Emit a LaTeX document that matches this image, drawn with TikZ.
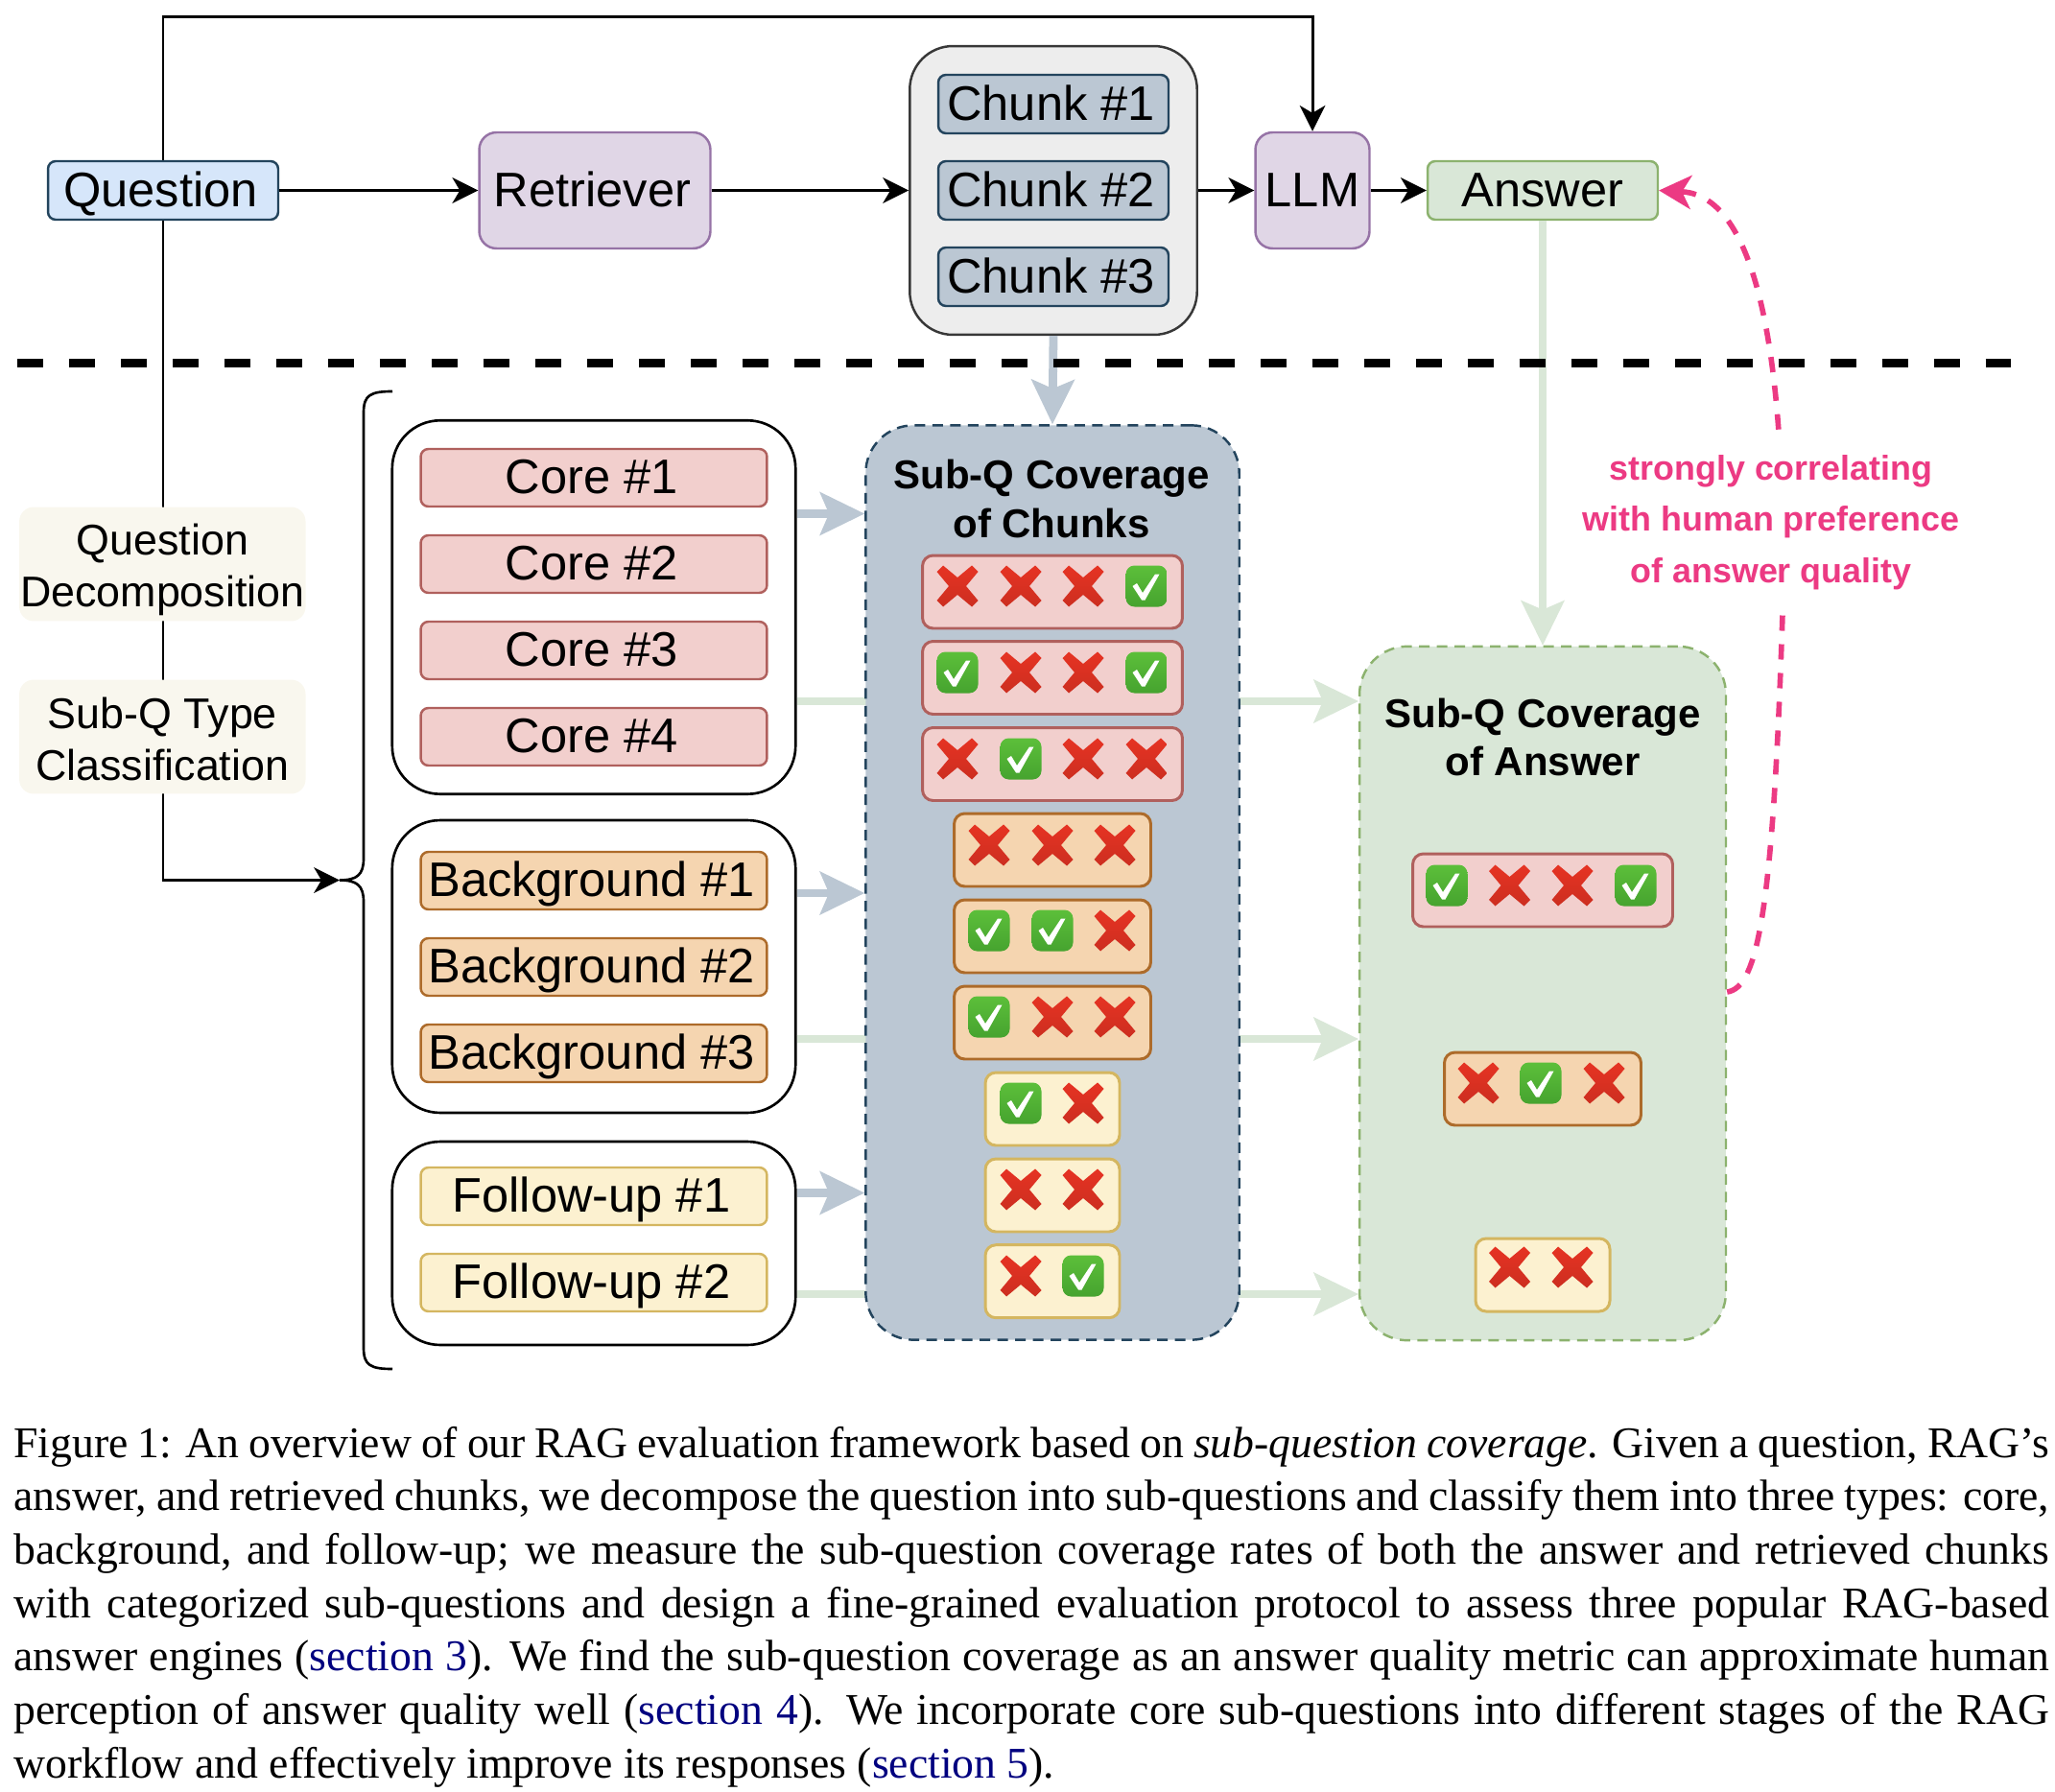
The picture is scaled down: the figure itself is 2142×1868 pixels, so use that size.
\documentclass[tikz,border=0pt]{standalone}
\usepackage{fontspec}
\setmainfont{Liberation Sans}
\newfontfamily\capfont{Liberation Serif}
\usetikzlibrary{arrows.meta}
\definecolor{questfill}{HTML}{D6E6FA}
\definecolor{slatefill}{HTML}{BBC7D3}
\definecolor{slateline}{HTML}{23445D}
\definecolor{purplefill}{HTML}{E0D6E6}
\definecolor{purpleline}{HTML}{9673A6}
\definecolor{greenfill}{HTML}{D9E7D7}
\definecolor{greenline}{HTML}{8CB26E}
\definecolor{corefill}{HTML}{F2CFCD}
\definecolor{coreline}{HTML}{B0605D}
\definecolor{backfill}{HTML}{F5D5B0}
\definecolor{backline}{HTML}{AD6B2A}
\definecolor{followfill}{HTML}{FCF1D0}
\definecolor{followline}{HTML}{D4B660}
\definecolor{hintfill}{HTML}{F9F7EE}
\definecolor{hotpink}{HTML}{EC3A83}
\definecolor{linkblue}{HTML}{00007F}
\definecolor{crosstop}{HTML}{E63323}
\definecolor{crossbottom}{HTML}{CC2E20}
\definecolor{checktop}{HTML}{5CBF3A}
\definecolor{checkbottom}{HTML}{46A32F}
\newcommand{\hintstrut}{\rule[-4pt]{0pt}{28.7pt}}
\newcommand{\capline}[1]{\hbox to 42.44cm{\spaceskip=0pt \xspaceskip=0pt #1}}
\begin{document}
\begin{tikzpicture}[x=0.02cm,y=-0.02cm,
    labelfont/.style={font=\fontsize{28.8}{34}\selectfont,text height=.665cm,text depth=0pt,inner sep=0pt},
    nudged/.style={execute at end node={\hspace{.1cm}}},
    qbox/.style={labelfont,nudged,draw=slateline,fill=questfill,line width=1.4pt,rounded corners=.16cm,minimum width=4.8cm,minimum height=1.22cm},
    purplebox/.style={labelfont,draw=purpleline,fill=purplefill,line width=1.4pt,rounded corners=.36cm,minimum height=2.42cm},
    answerbox/.style={labelfont,draw=greenline,fill=greenfill,line width=1.4pt,rounded corners=.16cm,minimum width=4.8cm,minimum height=1.22cm},
    chunkbox/.style={labelfont,nudged,draw=slateline,fill=slatefill,line width=1.4pt,rounded corners=.16cm,minimum width=4.8cm,minimum height=1.22cm},
    chunkgroup/.style={draw=black!78,fill=black!7,line width=1.4pt,rounded corners=.9cm,minimum width=5.99cm,minimum height=6.02cm},
    group/.style={draw=black,fill=white,line width=1.5pt,rounded corners=1cm,minimum width=8.41cm},
    corebox/.style={labelfont,nudged,draw=coreline,fill=corefill,line width=1.4pt,rounded corners=.16cm,minimum width=7.22cm,minimum height=1.2cm},
    backbox/.style={labelfont,nudged,draw=backline,fill=backfill,line width=1.4pt,rounded corners=.16cm,minimum width=7.22cm,minimum height=1.2cm},
    followbox/.style={labelfont,nudged,draw=followline,fill=followfill,line width=1.4pt,rounded corners=.16cm,minimum width=7.22cm,minimum height=1.2cm},
    corerow/.style={draw=coreline,fill=corefill,line width=1.7pt,rounded corners=.22cm,minimum width=5.42cm,minimum height=1.52cm},
    backrow/.style={draw=backline,fill=backfill,line width=1.7pt,rounded corners=.22cm,minimum width=4.1cm,minimum height=1.52cm},
    followrow/.style={draw=followline,fill=followfill,line width=1.7pt,rounded corners=.22cm,minimum width=2.8cm,minimum height=1.52cm},
    coverage/.style={line width=1.4pt,dash pattern=on .22cm off .15cm,rounded corners=1cm},
    covertitle/.style={font=\fontsize{23.9}{29}\selectfont\bfseries,align=center,inner sep=0pt},
    hint/.style={fill=hintfill,rounded corners=.3cm,align=center,inner sep=0pt,minimum width=5.97cm,minimum height=2.38cm,font=\fontsize{25.5}{30.7}\selectfont},
    flow/.style={draw=black,line width=1.7pt,-{Stealth[length=.54cm,width=.54cm,inset=.16cm,line width=0pt]}},
    slateflow/.style={draw=slatefill,line width=5pt,-{Stealth[length=.94cm,width=.92cm,inset=.2cm,line width=0pt]}},
    greenflow/.style={draw=greenfill,line width=5pt,-{Stealth[length=.94cm,width=.92cm,inset=.2cm,line width=0pt]}},
    crossmark/.pic={
        \shade[top color=crosstop,bottom color=crossbottom] (-21.5,-15) -- (-15,-21.5) -- (0,-9) -- (15,-21.5) -- (21.5,-15) -- (9,0)
            -- (21.5,15) -- (15,21.5) -- (0,9) -- (-15,21.5) -- (-21.5,15) -- (-9,0) -- cycle;
    },
    checkmark/.pic={
        \shade[rounded corners=.18cm,top color=checktop,bottom color=checkbottom] (-21.5,-21.5) rectangle (21.5,21.5);
        \fill[white] (-14.5,0) -- (-10,-3) -- (-4,7) -- (9,-12.5) -- (13.5,-12.5) -- (-1.5,14.5) -- (-5,14.5) -- cycle;
    }]
    \useasboundingbox (0,0) rectangle (2142,1868);

    % top row
    \node[qbox] (question) at (170,198.5) {Question};
    \node[purplebox,nudged,minimum width=4.82cm] (retriever) at (620,198.5) {Retriever};
    \node[chunkgroup] (chunks) at (1098,198.5) {};
    \node[chunkbox] (chunk1) at (1098,108.5) {Chunk \#1};
    \node[chunkbox] (chunk2) at (1098,198.5) {Chunk \#2};
    \node[chunkbox] (chunk3) at (1098,288.5) {Chunk \#3};
    \node[purplebox,minimum width=2.38cm] (llm) at (1368,198.5) {LLM};
    \node[answerbox] (answer) at (1608,198.5) {Answer};

    % sub-question groups
    \node[group,minimum height=7.79cm] (coregroup) at (619,633) {};
    \node[group,minimum height=6.1cm] (backgroup) at (619,1007.5) {};
    \node[group,minimum height=4.24cm] (followgroup) at (619,1296) {};
    \foreach \i/\yy in {1/498,2/588,3/678,4/768}
        \node[corebox] (core\i) at (619,\yy) {Core \#\i};
    \foreach \i/\yy in {1/918,2/1008,3/1098}
        \node[backbox] (back\i) at (619,\yy) {Background \#\i};
    \foreach \i/\yy in {1/1247,2/1337}
        \node[followbox] (follow\i) at (619,\yy) {Follow-up \#\i};

    % coverage of answer
    \node[draw=greenline,fill=greenfill,coverage,minimum width=7.64cm,minimum height=14.47cm] (anscov) at (1608,1035.5) {};
    \node[covertitle] (anstitle) at (1608,768.5) {Sub-Q Coverage\\of Answer};

    % flows that run behind the chunk coverage
    \draw[greenflow] (answer.south) -- (anscov.north);
    \draw[greenflow] (coregroup.east |- 0,731) -- (anscov.west |- 0,731);
    \draw[greenflow] (backgroup.east |- 0,1083) -- (anscov.west |- 0,1083);
    \draw[greenflow] (followgroup.east |- 0,1349) -- (anscov.west |- 0,1349);

    % coverage of chunks
    \node[draw=slateline,fill=slatefill,coverage,minimum width=7.79cm,minimum height=19.07cm] (chunkcov) at (1097,920) {};
    \node[covertitle] (chunktitle) at (1096,520) {Sub-Q Coverage\\of Chunks};
    \foreach \i/\yy in {1/617,2/706.5,3/796.5}
        \node[corerow] (chunkrow\i) at (1097,\yy) {};
    \foreach \i/\yy in {4/886,5/976,6/1066}
        \node[backrow] (chunkrow\i) at (1097,\yy) {};
    \foreach \i/\yy in {7/1156,8/1246,9/1335.7}
        \node[followrow] (chunkrow\i) at (1097,\yy) {};
    \node[corerow] (ansrow1) at (1608,928) {};
    \node[backrow] (ansrow2) at (1608,1135) {};
    \node[followrow] (ansrow3) at (1608,1329) {};
    \foreach \mx/\my in {998/611,1064/611,1129/611,1064/701,1129/701,998/791,1129/791,1195/791,
        1031/881,1097/881,1162/881,1162/970,1097/1060,1162/1060,1129/1150,1064/1240,1129/1240,1064/1330,
        1573.5/923,1639/923,1541/1129,1672/1129,1573.5/1321,1639/1321}
        \pic at (\mx,\my) {crossmark};
    \foreach \mx/\my in {1195/611,998/701,1195/701,1064/791,1031/970,1097/970,1031/1060,1064/1150,1129/1330,
        1508/923,1705/923,1606/1129}
        \pic at (\mx,\my) {checkmark};

    % flows into the chunk coverage
    \draw[slateflow] (chunks.south) -- (chunkcov.north);
    \draw[slateflow] (coregroup.east |- 0,535.5) -- (chunkcov.west |- 0,535.5);
    \draw[slateflow] (backgroup.east |- 0,931) -- (chunkcov.west |- 0,931);
    \draw[slateflow] (followgroup.east |- 0,1243.5) -- (chunkcov.west |- 0,1243.5);

    % top row arrows
    \coordinate (toprail) at (170,18);
    \coordinate (bracetip) at (354,917.5);
    \draw[flow] (question) -- (retriever);
    \draw[flow] (retriever) -- (chunks.west |- retriever);
    \draw[flow] (chunks.east |- llm) -- (llm);
    \draw[flow] (llm) -- (answer);
    \draw[flow] (question.north) -- (toprail) -| (llm.north);
    \draw[flow] (question.south) |- (bracetip);

    % brace
    \draw[line width=1.5pt] (409,408) .. controls (386,408) and (379,412) .. (379,430) -- (379,895)
        .. controls (379,912) and (372,917.5) .. (bracetip) .. controls (372,917.5) and (379,923) .. (379,940)
        -- (379,1405) .. controls (379,1423) and (386,1427) .. (409,1427);

    % side labels
    \node[hint] (qdecomp) at (169.3,588) {\hintstrut Question\\\hintstrut Decomposition};
    \node[hint] (qtype) at (169.3,768) {\hintstrut Sub-Q Type\\\hintstrut Classification};

    % correlation
    \draw[hotpink,line width=3.2pt,dash pattern=on .32cm off .28cm,-{Stealth[length=.68cm,width=.72cm,inset=.2cm,line width=0pt]}]
        (anscov.east |- 0,1034) .. controls (1832,1030) and (1848,950) .. (1858,640)
        .. controls (1862,420) and (1842,205) .. (answer.east);
    \node[fill=white,text=hotpink,align=center,inner xsep=6pt,inner ysep=10pt,font=\fontsize{20.4}{30.4}\selectfont\bfseries] (corrlabel) at (1846,544.5)
        {strongly correlating\\with human preference\\of answer quality};

    % separator
    \coordinate (sepleft) at (18,378.5);
    \coordinate (sepright) at (2096,378.5);
    \draw[line width=5pt,dash pattern=on .54cm off .54cm] (sepleft) -- (sepright);

    % caption
    \node[anchor=north west,inner sep=0pt,text width=42.44cm,font=\capfont\fontsize{26}{31.7}\selectfont] (caption) at (14,1486.5) {%
        \capline{Figure 1: An overview of our RAG evaluation framework based on \emph{sub-question coverage}. Given a question, RAG’s}
        \capline{answer, and retrieved chunks, we decompose the question into sub-questions and classify them into three types: core,}
        \capline{background, and follow-up; we measure the sub-question coverage rates of both the answer and retrieved chunks}
        \capline{with categorized sub-questions and design a fine-grained evaluation protocol to assess three popular RAG-based}
        \capline{answer engines ({\color{linkblue}section 3}). We find the sub-question coverage as an answer quality metric can approximate human}
        \capline{perception of answer quality well ({\color{linkblue}section 4}). We incorporate core sub-questions into different stages of the RAG}
        \hbox{\spaceskip=0pt \xspaceskip=0pt workflow and effectively improve its responses ({\color{linkblue}section 5}).}};
\end{tikzpicture}
\end{document}
